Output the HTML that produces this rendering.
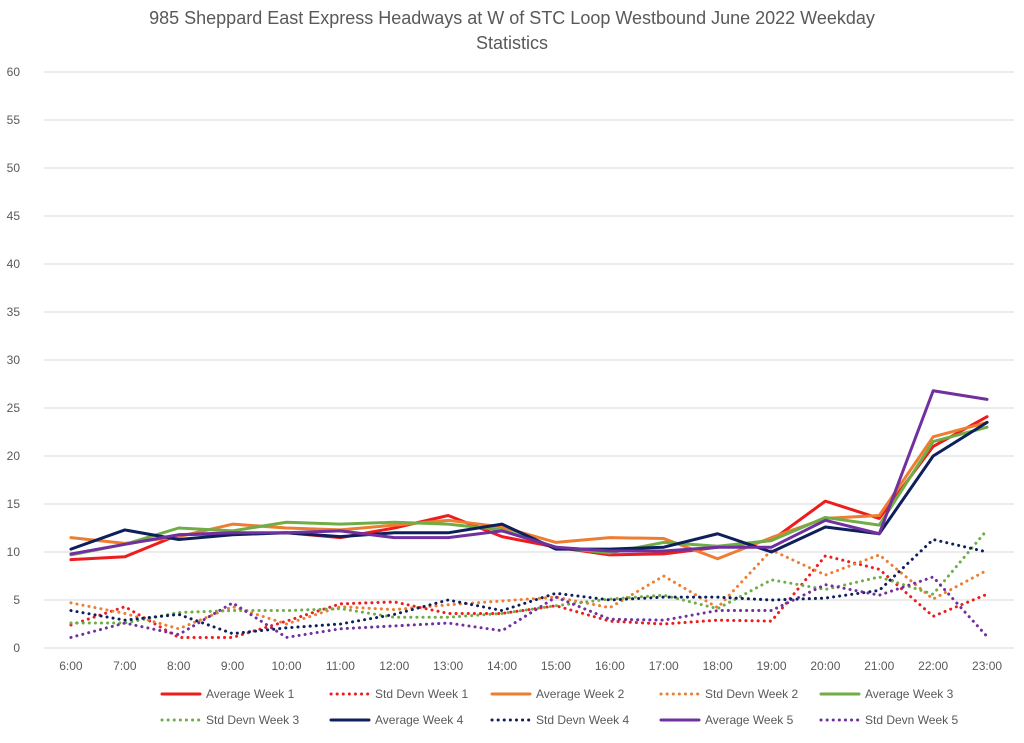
<!DOCTYPE html>
<html><head><meta charset="utf-8"><style>
body{margin:0;background:#fff;font-family:"Liberation Sans",sans-serif;}
svg text{font-family:"Liberation Sans",sans-serif;}
</style></head><body>
<svg id="chart" width="1024" height="738" viewBox="0 0 1024 738">
<rect width="1024" height="738" fill="#fff"/>
<text x="512" y="24" text-anchor="middle" font-size="18" fill="#595959">985 Sheppard East Express Headways at W of STC Loop Westbound June 2022 Weekday</text>
<text x="512" y="49" text-anchor="middle" font-size="18" fill="#595959">Statistics</text>
<g id="grid"></g><g id="series"></g><g id="legend"></g>
</svg>
<script>
const categories=["6:00","7:00","8:00","9:00","10:00","11:00","12:00","13:00","14:00","15:00","16:00","17:00","18:00","19:00","20:00","21:00","22:00","23:00"];
const yTicks=[0,5,10,15,20,25,30,35,40,45,50,55,60];
const avgWeek1=[9.2,9.5,11.8,11.9,12.0,11.5,12.5,13.8,11.6,10.5,9.7,9.8,10.5,11.2,15.3,13.5,21,24.1];
const stdWeek1=[2.4,4.3,1.1,1.1,2.8,4.6,4.8,3.6,3.6,4.4,2.8,2.5,2.9,2.8,9.6,8.2,3.3,5.6];
const avgWeek2=[11.5,10.9,11.6,12.9,12.5,12.3,12.8,13.3,12.6,11.0,11.5,11.4,9.3,11.5,13.5,13.8,22,23.5];
const stdWeek2=[4.7,3.6,2.0,4.3,2.5,4.3,4.0,4.5,4.9,5.3,4.2,7.5,4.2,10.2,7.6,9.7,5.1,8.1];
const avgWeek3=[9.7,10.8,12.5,12.2,13.1,12.9,13.1,12.9,12.3,10.5,9.9,11.0,10.6,11.2,13.6,12.8,21.5,23.0];
const stdWeek3=[2.6,2.6,3.7,3.9,3.9,4.1,3.2,3.2,3.6,4.4,5.1,5.5,4.1,7.1,6.1,7.4,5.6,12.3];
const avgWeek4=[10.3,12.3,11.3,11.8,12.0,11.6,12.0,12.0,12.9,10.3,10.3,10.5,11.9,10.0,12.6,11.9,20.0,23.5];
const stdWeek4=[3.9,2.9,3.5,1.5,2.1,2.5,3.5,5.0,3.9,5.7,5.0,5.3,5.3,5.0,5.2,6.0,11.3,10.0];
const avgWeek5=[9.8,10.8,11.8,12.0,12.0,12.2,11.5,11.5,12.2,10.5,10.1,10.1,10.5,10.5,13.3,11.9,26.8,25.9];
const stdWeek5=[1.1,2.6,1.4,4.7,1.1,2.0,2.3,2.6,1.8,5.3,3.0,2.9,3.9,3.9,6.6,5.5,7.4,1.2];
const seriesNames=["Average Week 1","Std Devn Week 1","Average Week 2","Std Devn Week 2","Average Week 3","Std Devn Week 3","Average Week 4","Std Devn Week 4","Average Week 5","Std Devn Week 5"];

const NS="http://www.w3.org/2000/svg";
const x0=44,x1=1014,yB=648,yT=72,yMax=60;
const step=(x1-x0)/categories.length;
const xs=i=>x0+step*(i+0.5);
const ys=v=>yB-(v/yMax)*(yB-yT);
function mk(tag,attrs,parent){const e=document.createElementNS(NS,tag);for(const k in attrs)e.setAttribute(k,attrs[k]);parent.appendChild(e);return e;}
const grid=document.getElementById('grid');
yTicks.forEach(t=>{
  const l=mk('line',{x1:x0,x2:x1,y1:ys(t),y2:ys(t),stroke:'#d9d9d9','stroke-width':1},grid);
  
  
  const tx=mk('text',{x:20,y:ys(t)+4,'text-anchor':'end','font-size':12,fill:'#595959'},grid);
  tx.textContent=t;
  
  
});
categories.forEach((c,i)=>{
  const tx=mk('text',{x:xs(i),y:670,'text-anchor':'middle','font-size':12,fill:'#595959'},grid);
  tx.textContent=c;
  
  
});
const data=[avgWeek1,stdWeek1,avgWeek2,stdWeek2,avgWeek3,stdWeek3,avgWeek4,stdWeek4,avgWeek5,stdWeek5];
const colors=["#ee1c1c","#ee1c1c","#ed7d31","#ed7d31","#70ad47","#70ad47","#0e1f5b","#0e1f5b","#7030a0","#7030a0"];
const sg=document.getElementById('series');
data.forEach((d,k)=>{
  const dotted=k%2===1;
  const p=mk('polyline',{points:d.map((v,i)=>xs(i)+','+ys(v)).join(' '),fill:'none',stroke:colors[k],'stroke-width':dotted?3:3,'stroke-linejoin':'round','stroke-linecap':'round','stroke-dasharray':dotted?'0.1 6':'none'},sg);
  
  
});
const lg=document.getElementById('legend');
const legX=[162,331,492,661,821];
seriesNames.forEach((n,k)=>{
  const row=k<5?0:1, col=k%5;
  const y=row?720:694, x=legX[col];
  const dotted=k%2===1;
  const g=mk('g',{},lg);
  
  
  mk('line',{x1:x,x2:x+38,y1:y,y2:y,stroke:colors[k],'stroke-width':3,'stroke-linecap':'round','stroke-dasharray':dotted?'0.1 6':'none'},g);
  const t=mk('text',{x:x+44,y:y+4,'font-size':12,fill:'#595959'},g);
  t.textContent=n;
});
</script>
</body></html>
